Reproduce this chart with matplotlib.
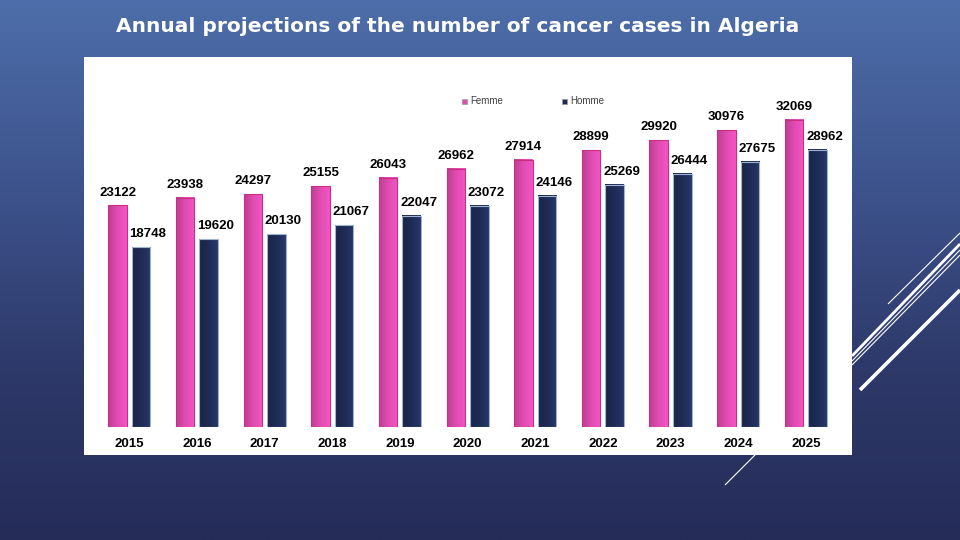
import matplotlib
matplotlib.use("Agg")
import matplotlib.pyplot as plt
import numpy as np
from matplotlib.colors import LinearSegmentedColormap
from matplotlib.patches import Rectangle

plt.rcParams["font.family"] = ["Liberation Sans", "DejaVu Sans"]

YEARS = ["2015", "2016", "2017", "2018", "2019", "2020", "2021", "2022", "2023", "2024", "2025"]
FEMME = [23122, 23938, 24297, 25155, 26043, 26962, 27914, 28899, 29920, 30976, 32069]
HOMME = [18748, 19620, 20130, 21067, 22047, 23072, 24146, 25269, 26444, 27675, 28962]
TITLE = "Annual projections of the number of cancer cases in Algeria"

W, H = 960, 540
BAR_W = 0.273
OFFSET = 0.174

pink_cmap = LinearSegmentedColormap.from_list("pink", ["#bf3d92", "#e04db2", "#f554c6"])
navy_cmap = LinearSegmentedColormap.from_list("navy", ["#1a2549", "#1e2b55", "#27376a"])


def gradient_bar(ax, x, h, cmap, edge):
    grad = np.linspace(0, 1, 64).reshape(1, -1)
    x0, x1 = x - BAR_W / 2, x + BAR_W / 2
    ax.imshow(grad, cmap=cmap, extent=(x0, x1, 0, h), aspect="auto", zorder=2, interpolation="bilinear")
    ax.add_patch(Rectangle((x0, 0), BAR_W, h, fill=False, edgecolor=edge, linewidth=0.8, zorder=3))


fig = plt.figure(figsize=(9.6, 5.4), dpi=100)

# background: vertical blue gradient, decorative lines, white panel
bg = fig.add_axes([0, 0, 1, 1], zorder=0)
bg_cmap = LinearSegmentedColormap.from_list("bg", ["#4d6eaa", "#3e548e", "#2e3a6b", "#252c58"])
bg.imshow(np.linspace(0, 1, 256).reshape(-1, 1), cmap=bg_cmap, extent=(0, W, H, 0), aspect="auto")
deco = [
    ((888, 304), (960, 233), 0.8),
    ((860, 390), (960, 290), 2.6),
    ((852, 356), (960, 244), 2.0),
    ((852, 361), (960, 250), 0.8),
    ((852, 365), (960, 255), 0.8),
    ((725, 485), (770, 440), 0.8),
]
for (xa, ya), (xb, yb), lw in deco:
    bg.plot([xa, xb], [ya, yb], color="white", linewidth=lw, solid_capstyle="butt", zorder=1)
bg.add_patch(Rectangle((84, 57), 768, 398, facecolor="white", edgecolor="none", zorder=2))
bg.set_xlim(0, W)
bg.set_ylim(H, 0)
bg.axis("off")

fig.text(458 / W, 1 - 26 / H, TITLE, color="white", fontsize=14.5, fontweight="bold",
         family="DejaVu Sans", ha="center", va="center")

# chart axes
left, right, base, top = 95, 845, 427, 90
ax = fig.add_axes([left / W, 1 - base / H, (right - left) / W, (base - top) / H], zorder=1)
ax.patch.set_alpha(0)
px_per_cat = 67.65
x_first = 129.3
ax.set_xlim((left - x_first) / px_per_cat, (right - x_first) / px_per_cat)
ax.set_ylim(0, (base - top) / 0.00958)

x = np.arange(len(YEARS))
for i in x:
    gradient_bar(ax, i - OFFSET, FEMME[i], pink_cmap, "#c8307f")
    gradient_bar(ax, i + OFFSET, HOMME[i], navy_cmap, "#9fb4d2")
    ax.annotate(f"{FEMME[i]}", (i - OFFSET, FEMME[i]), xytext=(0, 5), textcoords="offset points",
                ha="center", va="bottom", fontsize=9.5, fontweight="bold", color="black")
    ax.annotate(f"{HOMME[i]}", (i + OFFSET, HOMME[i]), xytext=(5, 5), textcoords="offset points",
                ha="center", va="bottom", fontsize=9.5, fontweight="bold", color="black")

ax.set_xticks(x)
ax.set_xticklabels(YEARS, fontsize=9.5, fontweight="bold")
ax.tick_params(axis="x", length=0, pad=8)
ax.set_yticks([])
for s in ax.spines.values():
    s.set_visible(False)

# legend
for mx, label, col in [(462, "Femme", "#e04db2"), (562, "Homme", "#1e2b55")]:
    fig.patches.append(Rectangle((mx / W, 1 - 104 / H), 5 / W, 5 / H, transform=fig.transFigure,
                                 facecolor=col, edgecolor="#9a9a9a", linewidth=0.5, zorder=3))
    fig.text((mx + 8) / W, 1 - 101.5 / H, label, fontsize=7, color="#404040", ha="left", va="center",
             zorder=3)

fig.savefig("out.png", dpi=100)
